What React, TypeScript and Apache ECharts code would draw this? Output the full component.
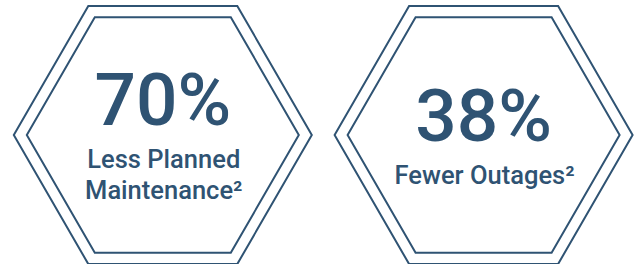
import React, { useEffect, useRef } from "react";
import * as echarts from "echarts";

const categories = ["maintenance", "outages"];
const percentValues = [70, 38];
const labelLines = [["Less Planned", "Maintenance²"], ["Fewer Outages²"]];

const COLOR = "#2f5373";

export default function App() {
  const ref = useRef<HTMLDivElement>(null);
  useEffect(() => {
    if (!ref.current) return;
    const chart = echarts.init(ref.current, null, { renderer: "svg" });
    const hex = (cx: number, cy: number, R: number) => {
      const pts: number[][] = [];
      for (let k = 0; k < 6; k++) {
        const a = (Math.PI / 3) * k;
        pts.push([cx + R * Math.cos(a), cy + R * Math.sin(a)]);
      }
      return pts;
    };
    chart.setOption({
      animation: false,
      grid: { left: 2.4, right: -6.6, top: 6, bottom: 0 },
      xAxis: { type: "category", data: categories, show: false },
      yAxis: { type: "value", min: 0, max: 1, show: false },
      series: [
        {
          type: "custom",
          clip: false,
          data: percentValues.map((v, i) => [i, v]),
          renderItem: (params: any, api: any) => {
            const idx = params.dataIndex;
            const cx = api.coord([api.value(0), 0])[0];
            const cs = params.coordSys;
            const cy = cs.y + cs.height / 2;
            const lines = labelLines[idx];
            const n = lines.length;
            const numMid = cy - 19.6 - 16 * (n - 1);
            const children: any[] = [
              {
                type: "polygon",
                shape: { points: hex(cx, cy, 149) },
                style: { fill: "none", stroke: COLOR, lineWidth: 2 },
              },
              {
                type: "polygon",
                shape: { points: hex(cx, cy, 136) },
                style: { fill: "none", stroke: COLOR, lineWidth: 2 },
              },
              {
                type: "text",
                style: {
                  text: api.value(1) + "%",
                  x: cx,
                  y: numMid + 1,
                  fill: COLOR,
                  font: "500 73px Roboto",
                  align: "center",
                  verticalAlign: "middle",
                },
              },
            ];
            lines.forEach((t, j) => {
              children.push({
                type: "text",
                style: {
                  text: t,
                  x: cx + 1,
                  y: numMid + 59.5 + 31.5 * j,
                  fill: COLOR,
                  font: "500 25.5px Roboto",
                  align: "center",
                  verticalAlign: "middle",
                },
              });
            });
            return { type: "group", children };
          },
        },
      ],
    });
    return () => chart.dispose();
  }, []);
  return (
    <div
      ref={ref}
      style={{ position: "absolute", left: 0, top: 0, width: 644, height: 264, background: "#fff" }}
    />
  );
}
